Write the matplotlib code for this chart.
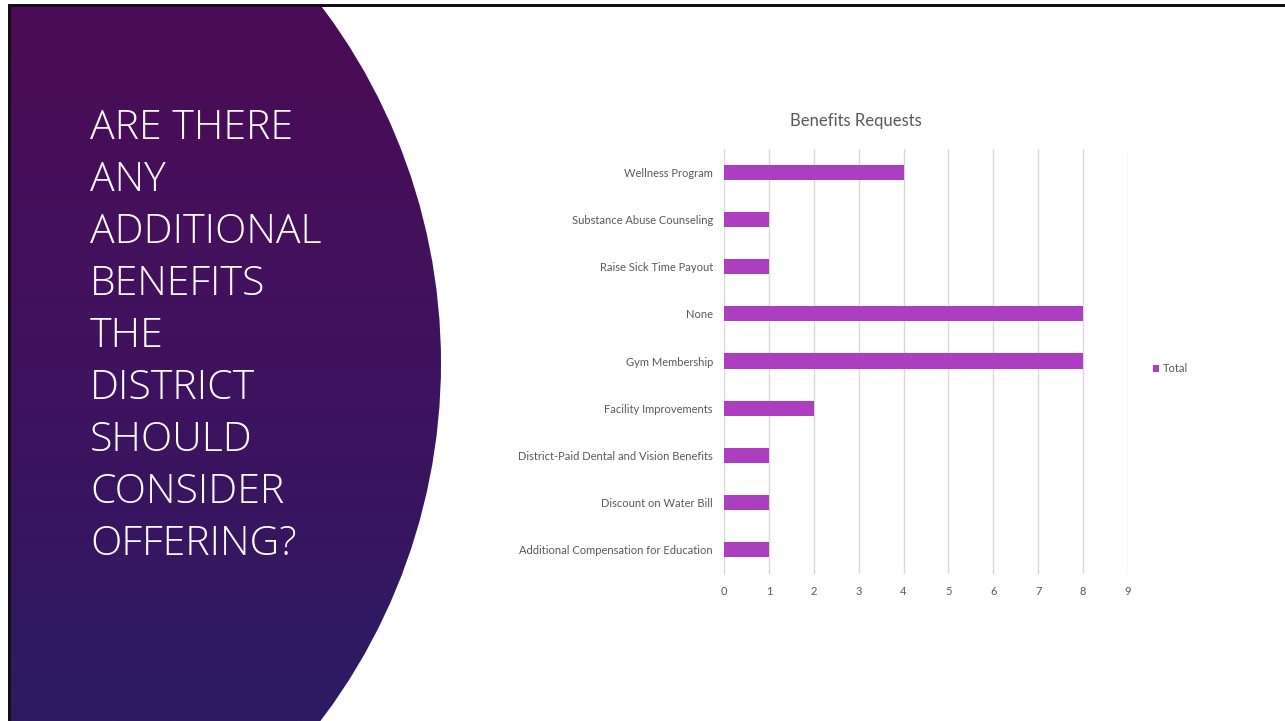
import numpy as np
import matplotlib
matplotlib.use('Agg')
import matplotlib.pyplot as plt
from matplotlib.patches import Circle, Rectangle
from matplotlib.colors import LinearSegmentedColormap

# chart data (bottom to top, as drawn)
categories = [
  'Additional Compensation for Education',
  'Discount on Water Bill',
  'District-Paid Dental and Vision Benefits',
  'Facility Improvements',
  'Gym Membership',
  'None',
  'Raise Sick Time Payout',
  'Substance Abuse Counseling',
  'Wellness Program',
]
totals = [1, 1, 1, 2, 8, 8, 1, 1, 4]
x_ticks = list(range(0, 10))

title_lines = ['ARE THERE', 'ANY', 'ADDITIONAL', 'BENEFITS', 'THE',
               'DISTRICT', 'SHOULD', 'CONSIDER', 'OFFERING?']

W, H = 1285, 721
BAR = '#ab3fc0'
GREY = '#595959'

fig = plt.figure(figsize=(W / 100, H / 100), dpi=100)

# slide background, drawn in pixel coords
bg = fig.add_axes([0, 0, 1, 1], zorder=0)
bg.set_xlim(0, W)
bg.set_ylim(H, 0)
bg.axis('off')

# purple half-circle with vertical gradient
cmap = LinearSegmentedColormap.from_list('slide', ['#4b0b55', '#44105c', '#3a1460', '#2c1c64'])
grad = np.linspace(0, 1, 256).reshape(-1, 1)
im = bg.imshow(grad, cmap=cmap, extent=[10, 450, H, 7], aspect='auto', zorder=1)
circ = Circle((-151, 363), 592, transform=bg.transData, facecolor='none', edgecolor='none')
bg.add_patch(circ)
im.set_clip_path(circ)

# slide frame (top and left edges)
bg.add_patch(Rectangle((8, 4), W, 3, facecolor='#111111', edgecolor='none', zorder=3))
bg.add_patch(Rectangle((8, 4), 2.5, H, facecolor='#111111', edgecolor='none', zorder=3))

# slide heading
for i, line in enumerate(title_lines):
  bg.text(90, 139 + i * 52, line, color='white', fontsize=29.5,
          family='Open Sans', fontweight='light', va='baseline', ha='left', zorder=4)

# bar chart
ax = fig.add_axes([724 / W, 1 - 573.5 / H, 404 / W, 425 / H], zorder=2)
ax.patch.set_alpha(0)
y = np.arange(len(categories))
ax.barh(y, totals, height=0.32, color=BAR, label='Total', zorder=3)
ax.set_xlim(0, 9)
ax.set_ylim(-0.5, len(categories) - 0.5)
ax.set_xticks(x_ticks)
ax.set_xticklabels([str(t) for t in x_ticks])
ax.set_yticks(y)
ax.set_yticklabels(categories)
ax.grid(axis='x', color='#d9d9d9', linewidth=1, zorder=0)
for s in ['top', 'right', 'bottom']:
  ax.spines[s].set_visible(False)
ax.spines['left'].set_color('#d9d9d9')
ax.tick_params(axis='both', length=0, colors=GREY, labelsize=8)
ax.tick_params(axis='x', pad=9)
ax.tick_params(axis='y', pad=8)
for lbl in ax.get_xticklabels() + ax.get_yticklabels():
  lbl.set_family('Lato')

fig.text(856 / W, 1 - 121 / H, 'Benefits Requests', ha='center', va='center',
         fontsize=12, color=GREY, family='Lato')

fig.legend(loc='center left', bbox_to_anchor=(1147 / W, 1 - 369 / H), frameon=False,
           handlelength=0.6, handleheight=0.6, handletextpad=0.3, borderpad=0,
           prop={'family': 'Lato', 'size': 8}, labelcolor=GREY)

fig.savefig('out.png', dpi=100)
